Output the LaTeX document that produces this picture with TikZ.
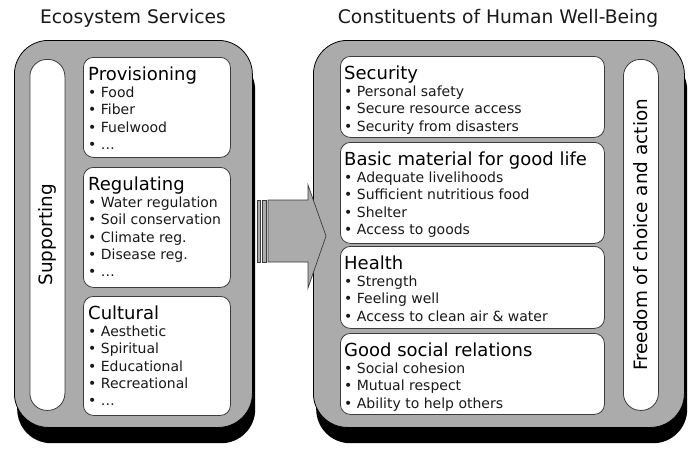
\documentclass[tikz,border=0pt]{standalone}
\usepackage{fontspec}
\setmainfont{DejaVu Sans}
\definecolor{boxgray}{RGB}{171,171,171}
\definecolor{edgegray}{RGB}{60,60,60}
\definecolor{txtc}{RGB}{25,25,25}
\newcommand{\hd}[1]{{\fontsize{18}{17.3}\selectfont\color{black}#1}}
\begin{document}
\begin{tikzpicture}[x=1pt,y=-1pt,
  shadowbox/.style={fill=black, rounded corners=34pt, anchor=north west, inner sep=0pt},
  outerbox/.style={draw=black, line width=0.8pt, fill=boxgray, rounded corners=34pt, anchor=north west, inner sep=0pt},
  inbox/.style={draw=edgegray, line width=0.8pt, fill=white, rounded corners=10pt, anchor=north west, inner sep=0pt, minimum width=147pt},
  rinbox/.style={inbox, minimum width=264pt},
  sidebar/.style={draw=edgegray, line width=0.8pt, fill=white, rounded corners=17pt, anchor=north west, inner sep=0pt, minimum width=35pt},
  boxtxt/.style={anchor=north west, inner sep=0pt, align=left, text=txtc, font=\fontsize{14}{17.3}\selectfont},
  bigtxt/.style={inner sep=0pt, text=black, font=\fontsize{18.4}{20}\selectfont},
  titletxt/.style={anchor=base, inner sep=0pt, text=txtc, font=\fontsize{18.7}{20}\selectfont},
  arrowshape/.style={draw=edgegray, line width=0.7pt, fill=boxgray, line join=miter}
]
\useasboundingbox (0,0) rectangle (700,455);
\fill[white] (0,0) rectangle (700,455);

% titles
\node[titletxt] (t1) at (133,23) {Ecosystem Services};
\node[titletxt] (t2) at (498,23) {Constituents of Human Well-Being};

% shadows and outer boxes
\node[shadowbox, minimum width=238pt, minimum height=387pt] (s1) at (17,56) {};
\node[shadowbox, minimum width=371pt, minimum height=387pt] (s2) at (316,56) {};
\node[outerbox, minimum width=238pt, minimum height=387pt] (eco) at (14,40) {};
\node[outerbox, minimum width=371pt, minimum height=387pt] (hwb) at (313,40) {};

% arrow
\draw[arrowshape] (257,200) rectangle (260,262);
\draw[arrowshape] (262,200) rectangle (266,262);
\draw[arrowshape] (268,200) -- (308,200) -- (308,185) -- (326,236) -- (308,288) -- (308,262) -- (268,262) -- cycle;

% left side
\node[sidebar, minimum height=351pt] (sup) at (29.5,59) {};
\node[bigtxt, rotate=90] (supt) at (sup.center) {Supporting};

\node[inbox, minimum height=100pt] (prov) at (83,57) {};
\node[boxtxt] (provt) at ([xshift=5pt,yshift=-9.5pt]prov.north west)
  {\hd{Provisioning}\\• Food\\• Fiber\\• Fuelwood\\• …};

\node[inbox, minimum height=120pt] (reg) at (83,167) {};
\node[boxtxt] (regt) at ([xshift=5pt,yshift=-9.5pt]reg.north west)
  {\hd{Regulating}\\• Water regulation\\• Soil conservation\\• Climate reg.\\• Disease reg.\\• …};

\node[inbox, minimum height=119pt] (cult) at (83,296) {};
\node[boxtxt] (cultt) at ([xshift=5pt,yshift=-9.5pt]cult.north west)
  {\hd{Cultural}\\• Aesthetic\\• Spiritual\\• Educational\\• Recreational\\• …};

% right side
\node[rinbox, minimum height=81pt] (sec) at (340,56) {};
\node[boxtxt] (sect) at ([xshift=4pt,yshift=-9.5pt]sec.north west)
  {\hd{Security}\\• Personal safety\\• Secure resource access\\• Security from disasters};

\node[rinbox, minimum height=101pt] (bas) at (340,142) {};
\node[boxtxt] (bast) at ([xshift=4pt,yshift=-9.5pt]bas.north west)
  {\hd{Basic material for good life}\\• Adequate livelihoods\\• Sufficient nutritious food\\• Shelter\\• Access to goods};

\node[rinbox, minimum height=82pt] (hea) at (340,246) {};
\node[boxtxt] (heat) at ([xshift=4pt,yshift=-9.5pt]hea.north west)
  {\hd{Health}\\• Strength\\• Feeling well\\• Access to clean air \& water};

\node[rinbox, minimum height=81pt] (soc) at (340,333) {};
\node[boxtxt] (soct) at ([xshift=4pt,yshift=-9.5pt]soc.north west)
  {\hd{Good social relations}\\• Social cohesion\\• Mutual respect\\• Ability to help others};

\node[sidebar, minimum height=351pt] (free) at (623,59) {};
\node[bigtxt, rotate=90] (freet) at (free.center) {Freedom of choice and action};
\end{tikzpicture}
\end{document}
